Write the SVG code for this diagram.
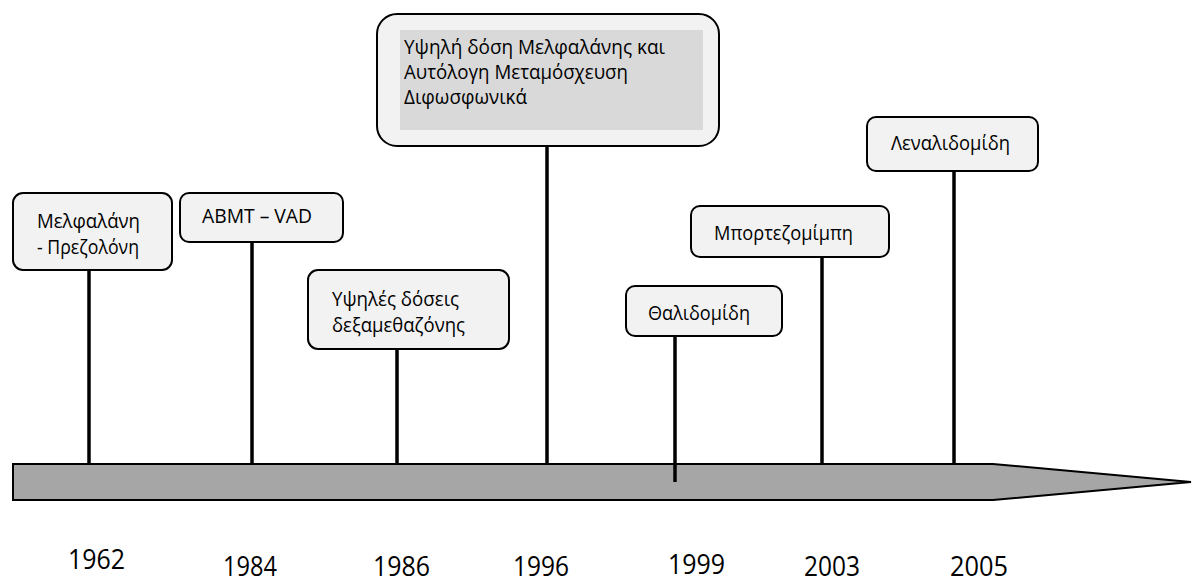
<svg xmlns="http://www.w3.org/2000/svg" width="1192" height="582" viewBox="0 0 1192 582">
  <style>
    .box { fill: #f2f2f2; stroke: #000; stroke-width: 2; }
    .inner { fill: #d9d9d9; stroke: none; }
    .t { font-family: "Open Sans", "Noto Sans", "DejaVu Sans", sans-serif; font-size: 20.5px; fill: #000; }
    .tb { font-family: "Open Sans", "Noto Sans", "DejaVu Sans", sans-serif; font-size: 19.5px; fill: #000; }
    .yr { font-family: "Open Sans", "Noto Sans", "DejaVu Sans", sans-serif; font-size: 27px; fill: #000; }
    .band { fill: #a6a6a6; stroke: #000; stroke-width: 2; stroke-linejoin: miter; }
    .conn { stroke: #000; stroke-width: 3.5; fill: none; }
  </style>
  <rect width="1192" height="582" fill="#fff"/>

  <g id="axis">
    <path class="band" d="M13,464 L993,464 L1191,482 L993,500 L13,500 Z"/>
  </g>

  <g id="connectors">
    <line class="conn" x1="89" y1="270" x2="89" y2="464"/>
    <line class="conn" x1="252" y1="242" x2="252" y2="464"/>
    <line class="conn" x1="397" y1="349" x2="397" y2="464"/>
    <line class="conn" x1="547" y1="146" x2="547" y2="464"/>
    <line class="conn" x1="675" y1="336" x2="675" y2="482"/>
    <line class="conn" x1="822" y1="257" x2="822" y2="464"/>
    <line class="conn" x1="954" y1="171" x2="954" y2="464"/>
  </g>

  <g id="node-1962">
    <rect class="box" x="13" y="193" width="159" height="77" rx="10"/>
    <text class="t" x="37" y="228" textLength="103" lengthAdjust="spacingAndGlyphs">Μελφαλάνη</text>
    <text class="t" x="37" y="254" textLength="102" lengthAdjust="spacingAndGlyphs">- Πρεζολόνη</text>
  </g>

  <g id="node-1984">
    <rect class="box" x="180" y="193" width="163" height="49" rx="9"/>
    <text class="t" x="202" y="223" textLength="110" lengthAdjust="spacingAndGlyphs">ABMT – VAD</text>
  </g>

  <g id="node-1986">
    <rect class="box" x="308" y="270" width="201" height="79" rx="10"/>
    <text class="t" x="332" y="306" textLength="127" lengthAdjust="spacingAndGlyphs">Υψηλές δόσεις</text>
    <text class="t" x="332" y="332" textLength="133" lengthAdjust="spacingAndGlyphs">δεξαμεθαζόνης</text>
  </g>

  <g id="node-1996">
    <rect class="box" x="377" y="14" width="342" height="132" rx="20"/>
    <rect class="inner" x="400" y="30" width="303" height="100"/>
    <text class="tb" x="404" y="54" textLength="261" lengthAdjust="spacingAndGlyphs">Υψηλή δόση Μελφαλάνης και</text>
    <text class="tb" x="404" y="79" textLength="224" lengthAdjust="spacingAndGlyphs">Αυτόλογη Μεταμόσχευση</text>
    <text class="tb" x="404" y="104" textLength="123" lengthAdjust="spacingAndGlyphs">Διφωσφωνικά</text>
  </g>

  <g id="node-1999">
    <rect class="box" x="626" y="286" width="156" height="50" rx="9"/>
    <text class="t" x="648" y="320" textLength="102" lengthAdjust="spacingAndGlyphs">Θαλιδομίδη</text>
  </g>

  <g id="node-2003">
    <rect class="box" x="691" y="206" width="198" height="51" rx="9"/>
    <text class="t" x="714" y="240" textLength="139" lengthAdjust="spacingAndGlyphs">Μπορτεζομίμπη</text>
  </g>

  <g id="node-2005">
    <rect class="box" x="867" y="117" width="171" height="54" rx="9"/>
    <text class="t" x="891" y="150" textLength="119" lengthAdjust="spacingAndGlyphs">Λεναλιδομίδη</text>
  </g>

  <g id="years">
    <text class="yr" x="68" y="569" textLength="57" lengthAdjust="spacingAndGlyphs">1962</text>
    <text class="yr" x="223" y="576" textLength="54" lengthAdjust="spacingAndGlyphs">1984</text>
    <text class="yr" x="373" y="576" textLength="57" lengthAdjust="spacingAndGlyphs">1986</text>
    <text class="yr" x="513" y="576" textLength="56" lengthAdjust="spacingAndGlyphs">1996</text>
    <text class="yr" x="668" y="574" textLength="57" lengthAdjust="spacingAndGlyphs">1999</text>
    <text class="yr" x="804" y="576" textLength="56" lengthAdjust="spacingAndGlyphs">2003</text>
    <text class="yr" x="950" y="576" textLength="58" lengthAdjust="spacingAndGlyphs">2005</text>
  </g>
</svg>
